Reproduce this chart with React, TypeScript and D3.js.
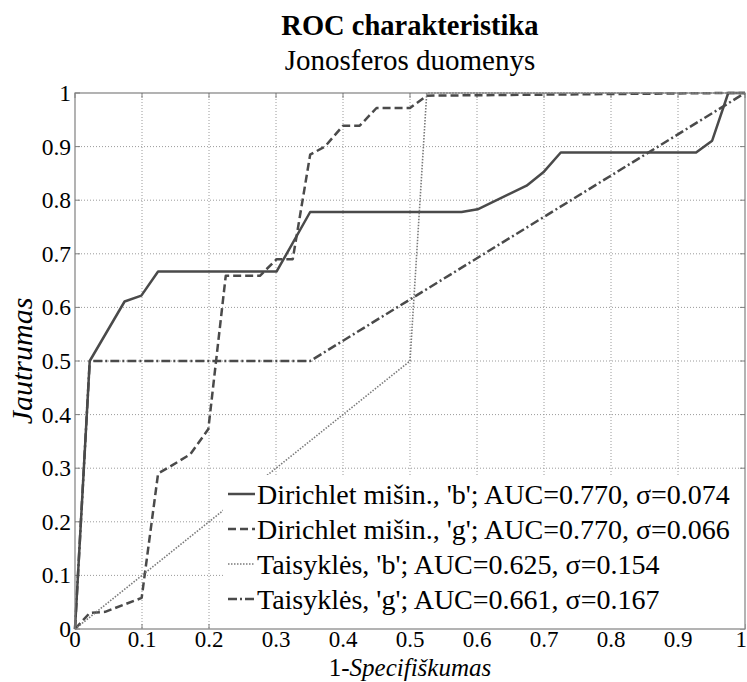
import React from "react";
import * as d3 from "d3";

const xTicks = [0, 0.1, 0.2, 0.3, 0.4, 0.5, 0.6, 0.7, 0.8, 0.9, 1];
const yTicks = [0, 0.1, 0.2, 0.3, 0.4, 0.5, 0.6, 0.7, 0.8, 0.9, 1];
const xTickLabels = ["0", "0.1", "0.2", "0.3", "0.4", "0.5", "0.6", "0.7", "0.8", "0.9", "1"];
const yTickLabels = ["0", "0.1", "0.2", "0.3", "0.4", "0.5", "0.6", "0.7", "0.8", "0.9", "1"];

const dirichletB: [number, number][] = [
  [0, 0], [0.022, 0.5], [0.074, 0.611], [0.099, 0.622], [0.124, 0.667], [0.301, 0.667],
  [0.351, 0.778], [0.577, 0.778], [0.601, 0.783], [0.674, 0.827], [0.699, 0.852],
  [0.725, 0.889], [0.927, 0.889], [0.951, 0.911], [0.975, 1.0], [1, 1],
];
const dirichletG: [number, number][] = [
  [0, 0], [0.022, 0.03], [0.045, 0.032], [0.0995, 0.058], [0.124, 0.29], [0.142, 0.303],
  [0.172, 0.326], [0.199, 0.373], [0.225, 0.659], [0.276, 0.659], [0.301, 0.69],
  [0.325, 0.69], [0.351, 0.885], [0.373, 0.9], [0.4, 0.939], [0.425, 0.939],
  [0.45, 0.972], [0.5, 0.972], [0.525, 0.995], [0.975, 1.0], [1, 1],
];
const taisyklesB: [number, number][] = [
  [0, 0], [0.5, 0.5], [0.525, 1.0], [1, 1],
];
const taisyklesG: [number, number][] = [
  [0, 0], [0.022, 0.5], [0.351, 0.5], [1, 1],
];

const legendLabels = [
  "Dirichlet mišin., 'b'; AUC=0.770, σ=0.074",
  "Dirichlet mišin., 'g'; AUC=0.770, σ=0.066",
  "Taisyklės, 'b'; AUC=0.625, σ=0.154",
  "Taisyklės, 'g'; AUC=0.661, σ=0.167",
];

const W = 747;
const H = 682;
const left = 75, right = 745, top = 93, bottom = 629;
const FONT = "'Liberation Serif', 'Times New Roman', Times, serif";
const LINE = "#4a4a4a";

const styles = [
  { width: 2.5, dash: "none", color: LINE },
  { width: 2.5, dash: "8,4", color: LINE },
  { width: 1.6, dash: "1.5,1.5", color: "#7a7a7a" },
  { width: 2.5, dash: "9,3,2,3", color: LINE },
];

export default function App() {
  const x = d3.scaleLinear().domain([0, 1]).range([left, right]);
  const y = d3.scaleLinear().domain([0, 1]).range([bottom, top]);
  const line = d3.line<[number, number]>().x((d) => x(d[0])).y((d) => y(d[1]));
  const series = [dirichletB, dirichletG, taisyklesB, taisyklesG];

  const legX = 223, legY = 475;
  const rowY = [504, 539, 574, 609];

  return (
    <svg width={W} height={H} style={{ position: "absolute", left: 0, top: 0, fontFamily: FONT }}>
      <rect x={0} y={0} width={W} height={H} fill="#fff" />
      {/* grid */}
      {xTicks.slice(1, -1).map((t) => (
        <line key={"gx" + t} x1={x(t)} x2={x(t)} y1={top} y2={bottom} stroke="#9a9a9a" strokeWidth={1} strokeDasharray="1,2" />
      ))}
      {yTicks.slice(1, -1).map((t) => (
        <line key={"gy" + t} x1={left} x2={right} y1={y(t)} y2={y(t)} stroke="#9a9a9a" strokeWidth={1} strokeDasharray="1,2" />
      ))}
      {/* ticks */}
      {xTicks.map((t) => (
        <g key={"tx" + t}>
          <line x1={x(t)} x2={x(t)} y1={bottom} y2={bottom - 5} stroke="#808080" />
          <line x1={x(t)} x2={x(t)} y1={top} y2={top + 5} stroke="#808080" />
        </g>
      ))}
      {yTicks.map((t) => (
        <g key={"ty" + t}>
          <line x1={left} x2={left + 5} y1={y(t)} y2={y(t)} stroke="#808080" />
          <line x1={right} x2={right - 5} y1={y(t)} y2={y(t)} stroke="#808080" />
        </g>
      ))}
      {/* curves */}
      {series.map((s, i) => (
        <path
          key={"s" + i}
          d={line(s) || ""}
          fill="none"
          stroke={styles[i].color}
          strokeWidth={styles[i].width}
          strokeDasharray={styles[i].dash}
          strokeLinejoin="round"
        />
      ))}
      {/* legend */}
      <rect x={legX} y={legY} width={right - legX} height={bottom - legY} fill="#fff" />
      {legendLabels.map((lab, i) => (
        <g key={"lg" + i}>
          <line
            x1={228}
            x2={255}
            y1={rowY[i] - 10}
            y2={rowY[i] - 10}
            stroke={styles[i].color}
            strokeWidth={styles[i].width}
            strokeDasharray={styles[i].dash}
          />
          <text x={257} y={rowY[i]} fontSize={28} fill="#000">{lab}</text>
        </g>
      ))}
      {/* box */}
      <rect x={left} y={top} width={right - left} height={bottom - top} fill="none" stroke="#808080" strokeWidth={1.2} />
      {/* tick labels */}
      {xTicks.map((t, i) => {
        const last = i === xTicks.length - 1;
        return (
          <text key={"xl" + t} x={last ? W : x(t)} y={647} fontSize={23} textAnchor={last ? "end" : "middle"} fill="#000">{xTickLabels[i]}</text>
        );
      })}
      {yTicks.map((t, i) => (
        <text key={"yl" + t} x={71} y={y(t) + 8} fontSize={23.5} textAnchor="end" fill="#000">{yTickLabels[i]}</text>
      ))}
      {/* titles */}
      <text x={410} y={35} fontSize={28.5} textAnchor="middle" fontWeight="bold" fill="#000">ROC charakteristika</text>
      <text x={410} y={70} fontSize={29} textAnchor="middle" fill="#000">Jonosferos duomenys</text>
      {/* axis labels */}
      <text x={410} y={676} fontSize={25} textAnchor="middle" fill="#000">
        1-<tspan fontStyle="italic">Specifiškumas</tspan>
      </text>
      <text transform={`translate(32,${(top + bottom) / 2}) rotate(-90)`} fontSize={30} textAnchor="middle" fontStyle="italic" fill="#000">Jautrumas</text>
    </svg>
  );
}
